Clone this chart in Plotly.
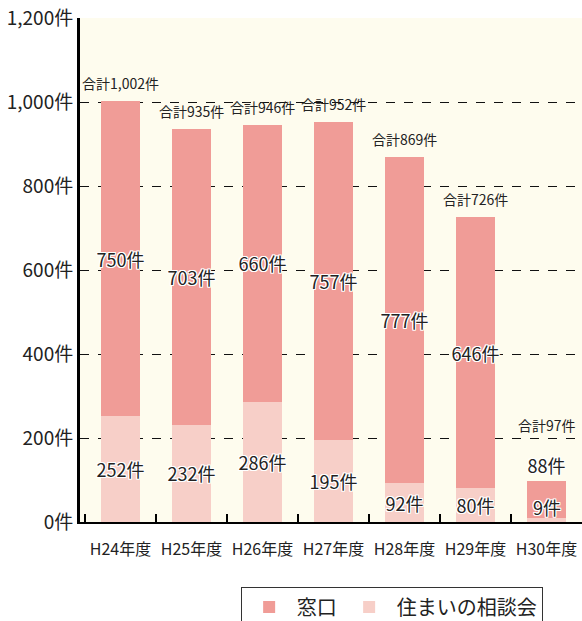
import plotly.graph_objects as go

# データ
years = ["H24年度", "H25年度", "H26年度", "H27年度", "H28年度", "H29年度", "H30年度"]
madoguchi = [750, 703, 660, 757, 777, 646, 88]      # 窓口
soudankai = [252, 232, 286, 195, 92, 80, 9]         # 住まいの相談会
totals = [1002, 935, 946, 952, 869, 726, 97]

FONT = "Noto Sans CJK JP"
halo = ("-1px -1px 0 #fff, 1px -1px 0 #fff, -1px 1px 0 #fff, 1px 1px 0 #fff, "
        "0 -1px 0 #fff, 0 1px 0 #fff, -1px 0 0 #fff, 1px 0 0 #fff")
label_font = dict(family=FONT, size=18, color="#222", shadow=halo)

fig = go.Figure()

# 最後の年度は帯が薄いので、ラベルは注釈で軸の上に置く
fig.add_trace(go.Bar(
    x=years, y=soudankai, name="住まいの相談会",
    marker=dict(color="#F7CFC8", line=dict(width=0)),
    text=[f"{v}件" for v in soudankai],
    textposition=["inside"] * 6 + ["none"],
    insidetextanchor="middle", constraintext="none", textangle=0,
    textfont=label_font,
))
fig.add_annotation(
    x=years[-1], y=0, text=f"{soudankai[-1]}件", showarrow=False,
    yanchor="bottom", yshift=0, font=label_font,
)

fig.add_trace(go.Bar(
    x=years, y=madoguchi, name="窓口",
    marker=dict(color="#F09C97", line=dict(width=0)),
    text=[f"{v}件" for v in madoguchi],
    textposition=["inside"] * 6 + ["outside"],
    insidetextanchor="middle", constraintext="none", textangle=0,
    textfont=label_font,
    outsidetextfont=dict(family=FONT, size=18, color="#222"),
    cliponaxis=False,
))

# 合計ラベル
for i, (yr, tot) in enumerate(zip(years, totals)):
    fig.add_annotation(
        x=yr, y=tot, text=f"合計{tot:,}件", showarrow=False,
        yanchor="bottom", yshift=44 if i == len(years) - 1 else 6,
        font=dict(family=FONT, size=14, color="#222"),
    )

fig.update_layout(
    width=582, height=621,
    barmode="stack", bargap=0.44,
    paper_bgcolor="white", plot_bgcolor="#FEFCEE",
    margin=dict(l=80, r=0, t=18, b=99, autoexpand=False),
    font=dict(family=FONT, color="#222"),
    showlegend=True,
    legend=dict(
        orientation="h", traceorder="reversed",
        x=0.32, xanchor="left", y=-0.128, yanchor="top",
        bordercolor="#333", borderwidth=1, bgcolor="white",
        itemwidth=45,
        font=dict(family=FONT, size=20, color="#222"),
    ),
)

fig.update_yaxes(
    range=[0, 1200], dtick=200, tickformat=",d", ticksuffix="件",
    showgrid=True, gridcolor="#111", griddash="dash", gridwidth=1.3,
    showline=True, linecolor="black", linewidth=3,
    ticks="", zeroline=False, automargin=False,
    tickfont=dict(family=FONT, size=19, color="#222"),
)
fig.update_xaxes(
    showline=True, linecolor="black", linewidth=2,
    tickson="boundaries", ticks="inside", ticklen=8, tickwidth=1.5, tickcolor="black",
    tickfont=dict(family=FONT, size=16, color="#222"),
    ticklabelstandoff=12, automargin=False,
)

fig.write_html("out.html", config={"displayModeBar": False},
               post_script="document.body.style.margin='0';")
